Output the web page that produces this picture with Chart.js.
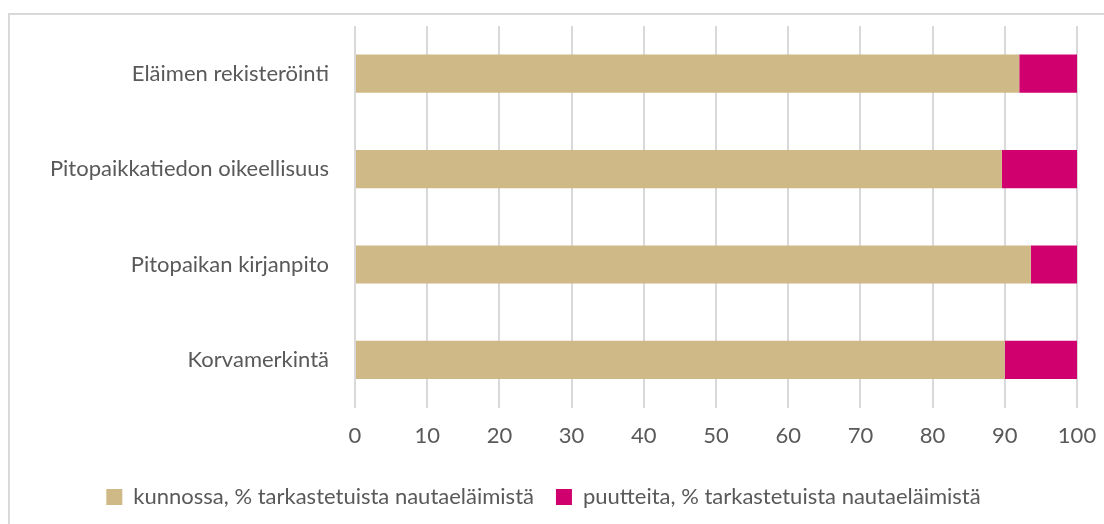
<!DOCTYPE html>
<html>
<head>
<meta charset="utf-8">
<script src="https://cdn.jsdelivr.net/npm/chart.js@4"></script>
<style>
  html, body { margin: 0; padding: 0; background: #fff; }
  #wrap { position: relative; width: 1104px; height: 524px; overflow: hidden; }
  #frame { position: absolute; left: 8px; top: 13px; width: 1110px; height: 530px; border: 2px solid #d9d9d9; box-sizing: border-box; }
  #chart { position: absolute; left: 0; top: 0; }
</style>
</head>
<body>
<div id="wrap">
  <div id="frame"></div>
  <canvas id="chart" width="1104" height="524"></canvas>
</div>
<script>
// Categories (top to bottom) and series values
const categories = [
    'Eläimen rekisteröinti',
    'Pitopaikkatiedon oikeellisuus',
    'Pitopaikan kirjanpito',
    'Korvamerkintä'
];
const kunnossa = [92.0, 89.6, 93.6, 90.0];
const puutteita = [8.0, 10.4, 6.4, 10.0];
const seriesNames = [
    'kunnossa, % tarkastetuista nautaeläimistä',
    'puutteita, % tarkastetuista nautaeläimistä'
];
const xTicks = [0, 10, 20, 30, 40, 50, 60, 70, 80, 90, 100];

const textColor = '#595959';
const fontFamily = 'Lato, "Open Sans", sans-serif';

const ctx = document.getElementById('chart');
new Chart(ctx, {
    type: 'bar',
    data: {
        labels: categories,
        datasets: [{
            label: seriesNames[0],
            data: kunnossa,
            backgroundColor: '#cfb987',
            barPercentage: 0.4,
            categoryPercentage: 1
        }, {
            label: seriesNames[1],
            data: puutteita,
            backgroundColor: '#d1006f',
            barPercentage: 0.4,
            categoryPercentage: 1
        }]
    },
    options: {
        indexAxis: 'y',
        responsive: false,
        animation: false,
        layout: {
            padding: { left: 10, right: 27, top: 26, bottom: 6 }
        },
        scales: {
            x: {
                stacked: true,
                min: 0,
                max: 100,
                afterBuildTicks: function (scale) {
                    scale.ticks = xTicks.map(v => ({ value: v }));
                },
                afterFit: function (scale) {
                    scale.paddingLeft = 0;
                    scale.paddingRight = 0;
                },
                grid: {
                    color: '#d9d9d9',
                    lineWidth: 2,
                    drawTicks: false
                },
                border: { display: false },
                ticks: {
                    color: textColor,
                    font: { family: fontFamily, size: 22 },
                    padding: 15
                }
            },
            y: {
                stacked: true,
                grid: { display: false },
                border: { display: false },
                afterFit: function (scale) {
                    scale.width = 345;
                    scale.paddingTop = 0;
                    scale.paddingBottom = 0;
                },
                ticks: {
                    color: textColor,
                    font: { family: fontFamily, size: 22 },
                    padding: 18
                }
            }
        },
        plugins: {
            legend: {
                position: 'bottom',
                labels: {
                    color: textColor,
                    font: { family: fontFamily, size: 22 },
                    boxWidth: 16,
                    boxHeight: 16,
                    padding: 22
                }
            },
            tooltip: { enabled: false }
        }
    }
});
</script>
</body>
</html>
